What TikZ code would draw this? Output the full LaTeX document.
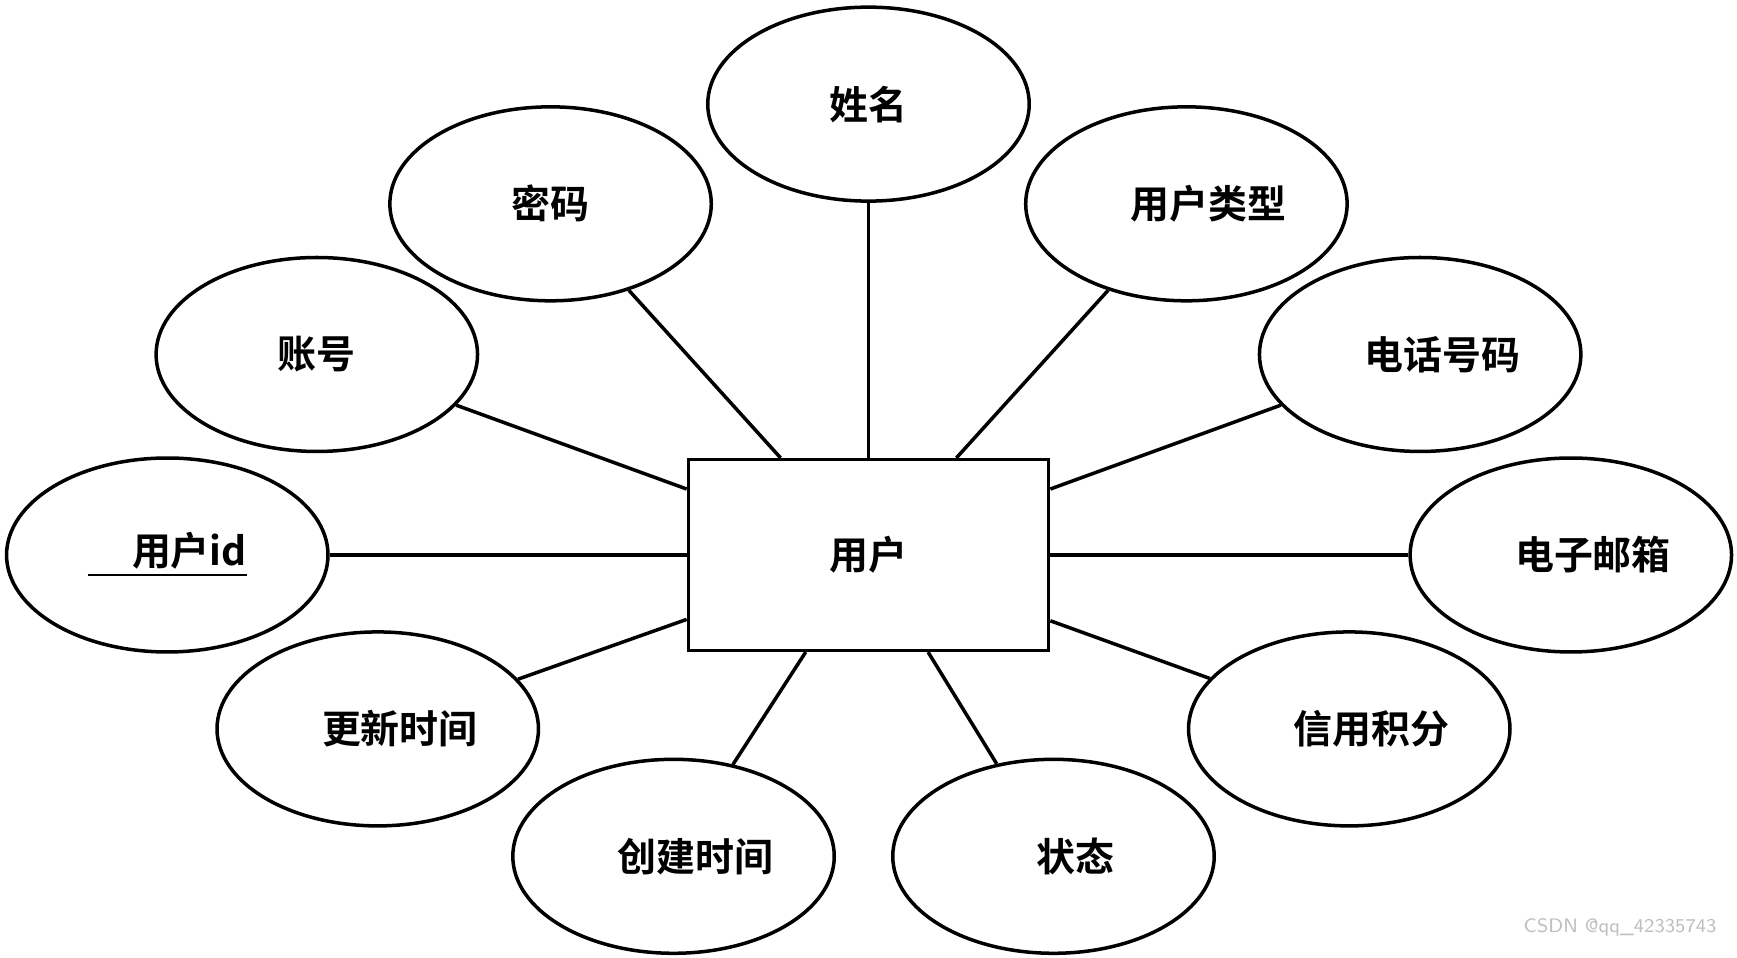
\documentclass[tikz,border=0pt]{standalone}
\usepackage{fontspec}
\newfontfamily\cjk{Noto Sans CJK SC Bold}
\usetikzlibrary{shapes.geometric}
\begin{document}
\begin{tikzpicture}[x=0.01cm,y=-0.01cm]
    % settings
    \tikzset{
      attr/.style={ellipse, draw, line width=0.9pt, minimum width=2.9cm, minimum height=1.75cm, font=\cjk\fontsize{10}{12}\selectfont},
      entity/.style={rectangle, draw, line width=0.9pt, minimum width=3.25cm, minimum height=1.72cm, font=\cjk\fontsize{10}{12}\selectfont},
      link/.style={line width=0.9pt},
    }
    \useasboundingbox (0,0) rectangle (1568,864);

    % entity
    \node[entity] (user) at (784,501) {用户};

    % attributes
    \node[attr] (name) at (784,94) {姓名};
    \node[attr] (pwd) at (497,184) {密码};
    \node[attr] (type) at (1071,184) {\hspace{0.4cm}用户类型};
    \node[attr] (acct) at (286,320) {账号};
    \node[attr] (phone) at (1282,320) {\hspace{0.4cm}电话号码};
    \node[attr] (uid) at (151,501) {\underline{\hspace{0.4cm}用户id}};
    \node[attr] (mail) at (1418,501) {\hspace{0.4cm}电子邮箱};
    \node[attr] (upd) at (341,658) {\hspace{0.4cm}更新时间};
    \node[attr] (credit) at (1218,658) {\hspace{0.4cm}信用积分};
    \node[attr] (created) at (608,773) {\hspace{0.4cm}创建时间};
    \node[attr] (state) at (951,773) {\hspace{0.4cm}状态};

    % links
    \foreach \a in {name, pwd, type, acct, phone, uid, mail, upd, credit, created, state}
      \draw[link] (\a) -- (user);

    \node[text=gray!50, font=\sffamily\fontsize{5}{6}\selectfont, anchor=south east] (mark) at (1562,858) {CSDN @qq\_42335743};
\end{tikzpicture}
\end{document}
